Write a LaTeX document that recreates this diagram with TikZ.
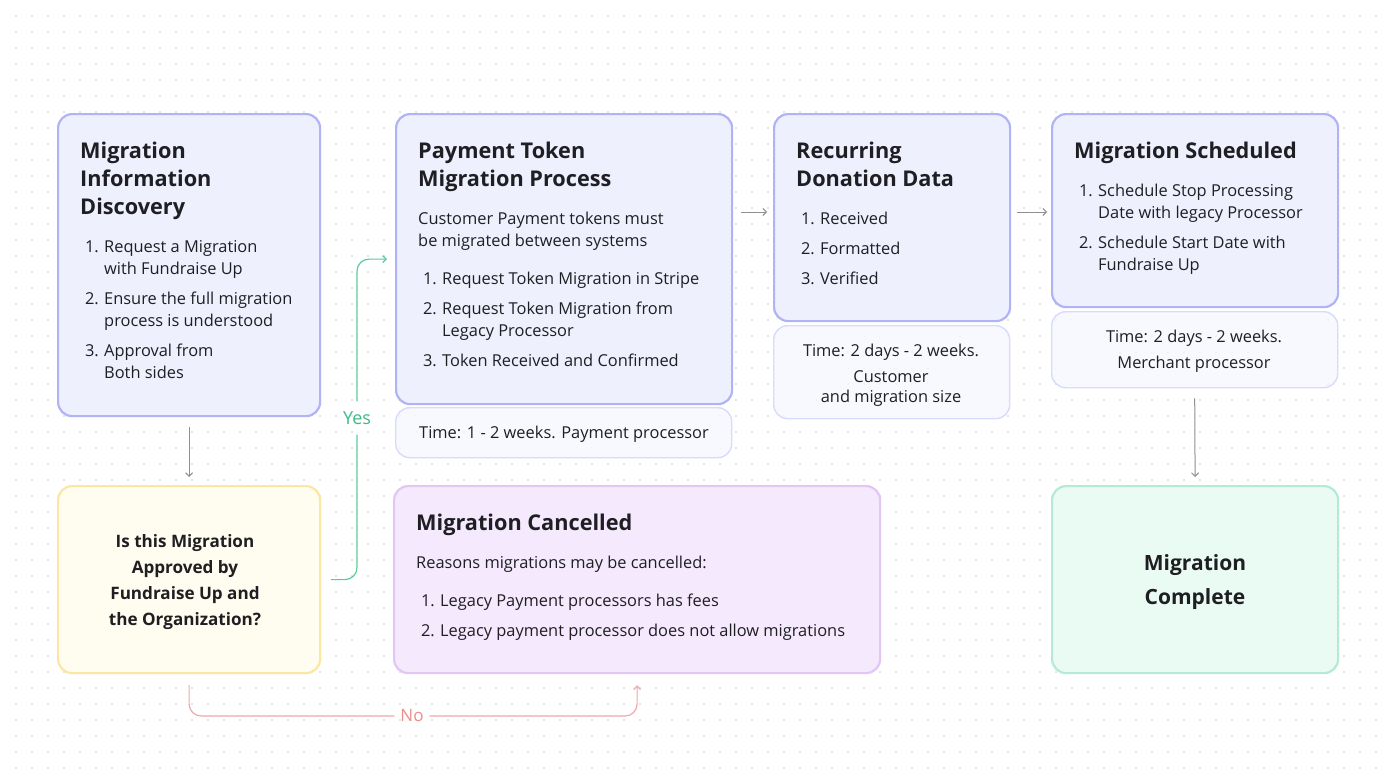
\documentclass[tikz,border=0pt]{standalone}
\usepackage{fontspec}
\setmainfont{Open Sans}
\usetikzlibrary{arrows.meta}
\definecolor{dotc}{HTML}{DCDCDE}
\definecolor{txt}{HTML}{1F1F23}
\definecolor{bluebd}{HTML}{B0B4F6}
\definecolor{bluefl}{HTML}{EEF0FE}
\definecolor{timebd}{HTML}{D8DBFB}
\definecolor{timefl}{HTML}{F4F5FE}
\definecolor{yelbd}{HTML}{FCE7A2}
\definecolor{yelfl}{HTML}{FFFDF0}
\definecolor{purbd}{HTML}{E2C6F6}
\definecolor{purfl}{HTML}{F4E9FD}
\definecolor{grnbd}{HTML}{B4EAD6}
\definecolor{grnfl}{HTML}{EAFBF3}
\definecolor{yesc}{HTML}{5CCB9B}
\definecolor{yestxt}{HTML}{3DBB84}
\definecolor{noc}{HTML}{F2A8A8}
\definecolor{notxt}{HTML}{EE8C8C}
\definecolor{arrc}{HTML}{8E8E93}
\tikzset{
  box/.style={draw=bluebd, fill=bluefl, line width=2.2pt, rounded corners=14pt, anchor=north west, inner sep=0pt},
  timebox/.style={draw=timebd, fill=timefl, fill opacity=0.6, line width=1.4pt, rounded corners=14pt, anchor=north west, inner sep=0pt},
  body/.style={font=\fontsize{16.4}{19}\selectfont, text=txt, inner sep=0pt, text height=11.8pt, text depth=0pt, anchor=west},
  num/.style={body, anchor=east},
  cbody/.style={body, anchor=center},
  head/.style={font=\fontsize{21.7}{25}\selectfont\bfseries, text=txt, inner sep=0pt, text height=15.8pt, text depth=0pt, anchor=west},
  qtext/.style={font=\fontsize{17.1}{20}\selectfont\bfseries, text=txt, inner sep=0pt, text height=12.4pt, text depth=0pt, anchor=center},
  gtext/.style={font=\fontsize{21}{24}\selectfont\bfseries, text=txt, inner sep=0pt, text height=15.5pt, text depth=0pt, anchor=center},
  flow/.style={draw=arrc, line width=1pt, -{Straight Barb[length=3.5pt,width=7pt]}},
  yesline/.style={draw=yesc, line width=1.2pt, rounded corners=12pt},
  noline/.style={draw=noc, line width=1.2pt, rounded corners=12pt},
  tip/.style={-{Straight Barb[length=3.5pt,width=7pt]}},
}
\begin{document}
\begin{tikzpicture}[x=1pt,y=-1pt]
\useasboundingbox (0,0) rectangle (1392,784);
\fill[white] (0,0) rectangle (1392,784);
\foreach \i in {1,...,86}{\foreach \j in {1,...,48}{\fill[dotc] (16*\i,16*\j) circle (1.1);}}

% boxes
\node[box, minimum width=262, minimum height=302] (A) at (57,113) {};
\node[box, minimum width=336, minimum height=290] (B) at (395,113) {};
\node[timebox, minimum width=336, minimum height=50] (TB) at (395,407) {};
\node[box, minimum width=236, minimum height=207] (C) at (773,113) {};
\node[timebox, minimum width=236, minimum height=93] (TC) at (773,325) {};
\node[box, minimum width=286, minimum height=193] (D) at (1051,113) {};
\node[timebox, minimum width=286, minimum height=76] (TD) at (1051,311) {};
\node[box, draw=yelbd, fill=yelfl, minimum width=262, minimum height=187] (E) at (57,485) {};
\node[box, draw=purbd, fill=purfl, minimum width=486, minimum height=187] (F) at (393,485) {};
\node[box, draw=grnbd, fill=grnfl, minimum width=286, minimum height=187] (G) at (1051,485) {};

% A
\node[head] (a0) at (80,151) {Migration};
\node[head] (a00) at (80,179) {Information};
\node[head] (a000) at (80,207) {Discovery};
\node[num] (a1n) at (99,247) {1.};
\node[body] (a1a) at (104,247) {Request a Migration};
\node[body] (a1b) at (104,269) {with Fundraise Up};
\node[num] (a2n) at (99,299) {2.};
\node[body] (a2a) at (104,299) {Ensure the full migration};
\node[body] (a2b) at (104,321) {process is understood};
\node[num] (a3n) at (99,351) {3.};
\node[body] (a3a) at (104,351) {Approval from};
\node[body] (a3b) at (104,373) {Both sides};

% B
\node[head] (b0) at (418,151) {Payment Token};
\node[head] (b00) at (418,179) {Migration Process};
\node[body] (bp1) at (418,219) {Customer Payment tokens must};
\node[body] (bp2) at (418,241) {be migrated between systems};
\node[num] (b1n) at (437,279) {1.};
\node[body] (b1a) at (442,279) {Request Token Migration in Stripe};
\node[num] (b2n) at (437,309) {2.};
\node[body] (b2a) at (442,309) {Request Token Migration from};
\node[body] (b2b) at (442,331) {Legacy Processor};
\node[num] (b3n) at (437,361) {3.};
\node[body] (b3a) at (442,361) {Token Received and Confirmed};
\node[body] (tb1) at (419,433) {Time: 1 - 2 weeks. Payment processor};

% C
\node[head] (c0) at (796,151) {Recurring};
\node[head] (c00) at (796,179) {Donation Data};
\node[num] (c1n) at (815,219) {1.};
\node[body] (c1a) at (820,219) {Received};
\node[num] (c2n) at (815,249) {2.};
\node[body] (c2a) at (820,249) {Formatted};
\node[num] (c3n) at (815,279) {3.};
\node[body] (c3a) at (820,279) {Verified};
\node[cbody] (tc1) at (891,351) {Time: 2 days - 2 weeks.};
\node[cbody] (tc2) at (891,377) {Customer};
\node[cbody] (tc3) at (891,397) {and migration size};

% D
\node[head] (d0) at (1074,151) {Migration Scheduled};
\node[num] (d1n) at (1093,191) {1.};
\node[body] (d1a) at (1098,191) {Schedule Stop Processing};
\node[body] (d1b) at (1098,213) {Date with legacy Processor};
\node[num] (d2n) at (1093,243) {2.};
\node[body] (d2a) at (1098,243) {Schedule Start Date with};
\node[body] (d2b) at (1098,265) {Fundraise Up};
\node[cbody] (td1) at (1194,337) {Time: 2 days - 2 weeks.};
\node[cbody] (td2) at (1194,363) {Merchant processor};

% E
\node[qtext] (e1) at (185,541) {Is this Migration};
\node[qtext] (e2) at (185,567) {Approved by};
\node[qtext] (e3) at (185,593) {Fundraise Up and};
\node[qtext] (e4) at (185,619) {the Organization?};

% F
\node[head] (f0) at (416,523) {Migration Cancelled};
\node[body] (fp) at (416,563) {Reasons migrations may be cancelled:};
\node[num] (f1n) at (435,601) {1.};
\node[body] (f1a) at (440,601) {Legacy Payment processors has fees};
\node[num] (f2n) at (435,631) {2.};
\node[body] (f2a) at (440,631) {Legacy payment processor does not allow migrations};

% G
\node[gtext] (g1) at (1195,563) {Migration};
\node[gtext] (g2) at (1195,597) {Complete};

% connectors
\draw[flow] ([yshift=-10pt]A.south) -- ([yshift=8pt]E.north);
\draw[flow] ([shift={(8,99)}]B.north east) -- ([shift={(-6,99)}]C.north west);
\draw[flow] ([shift={(6,99)}]C.north east) -- ([shift={(-4,99)}]D.north west);
\draw[flow] ([yshift=-10pt]TD.south) -- ([yshift=8pt]G.north);

\node[font=\fontsize{18}{20}\selectfont, text=yestxt, inner xsep=2pt, inner ysep=10pt] (yes) at (357,418) {Yes};
\draw[yesline] ([xshift=10pt]E.east) -| (yes.south);
\draw[yesline, tip] (yes.north) |- ([xshift=-8pt]B.west);

\node[font=\fontsize{17}{19}\selectfont, text=notxt, inner xsep=6pt, inner ysep=2pt] (no) at (412,716) {No};
\draw[noline] ([yshift=-11pt]E.south) |- (no.west);
\draw[noline, tip] (no.east) -| ([yshift=-11pt]F.south);
\end{tikzpicture}
\end{document}
